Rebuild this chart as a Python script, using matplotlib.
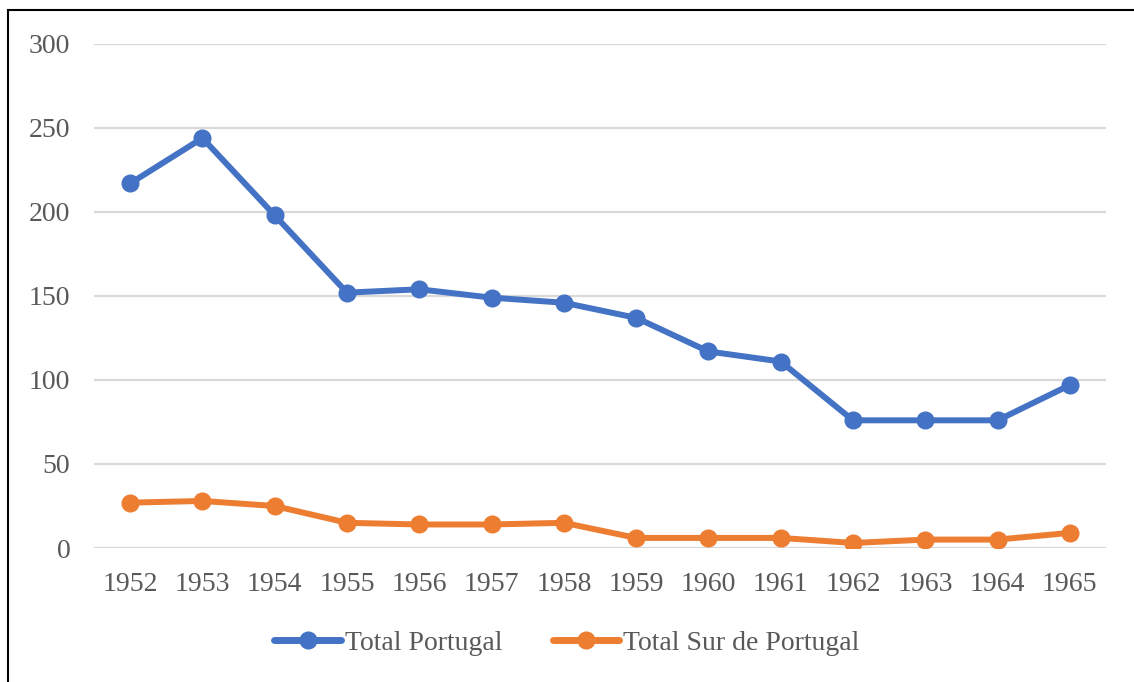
import matplotlib
matplotlib.use('Agg')
import matplotlib.pyplot as plt
from matplotlib.lines import Line2D

# Datos
years = ['1952', '1953', '1954', '1955', '1956', '1957', '1958',
         '1959', '1960', '1961', '1962', '1963', '1964', '1965']
total_portugal = [217, 244, 198, 152, 154, 149, 146, 137, 117, 111, 76, 76, 76, 97]
total_sur = [27, 28, 25, 15, 14, 14, 15, 6, 6, 6, 3, 5, 5, 9]

blue = '#4472C4'
orange = '#ED7D31'
grey_text = '#595959'

plt.rcParams['font.family'] = ['Liberation Serif', 'DejaVu Serif']

fig = plt.figure(figsize=(11.34, 6.82), dpi=100)
ax = fig.add_axes([94 / 1134, 1 - 548 / 682, 1012 / 1134, 504 / 682])

x = range(len(years))
ax.plot(x, total_portugal, color=blue, lw=4.3, marker='o', ms=12,
        solid_capstyle='round', label='Total Portugal')
ax.plot(x, total_sur, color=orange, lw=4.3, marker='o', ms=12,
        solid_capstyle='round', label='Total Sur de Portugal')

ax.set_xlim(-0.5, len(years) - 0.5)
ax.set_ylim(0, 300)
ax.set_yticks(range(0, 301, 50))
ax.set_xticks(list(x))
ax.set_xticklabels(years)
ax.grid(axis='y', color='#D9D9D9', lw=1.6)
ax.set_axisbelow(True)
for s in ax.spines.values():
    s.set_visible(False)
ax.tick_params(length=0, labelsize=20, labelcolor=grey_text)
ax.tick_params(axis='y', pad=17)
ax.tick_params(axis='x', pad=17)

handles = [
    Line2D([], [], color=blue, lw=5, marker='o', ms=12, solid_capstyle='round'),
    Line2D([], [], color=orange, lw=5, marker='o', ms=12, solid_capstyle='round'),
]
leg = fig.legend(handles, ['Total Portugal', 'Total Sur de Portugal'],
                 loc='center', bbox_to_anchor=(0.5, 1 - 643 / 682), ncol=2,
                 frameon=False, fontsize=20, handlelength=2.4, handletextpad=0.15,
                 columnspacing=1.8)
for t in leg.get_texts():
    t.set_color(grey_text)

# marco negro de la imagen
fig.add_artist(plt.Rectangle((7.5 / 1134, -0.05), 1.2, 1 - 9.5 / 682 + 0.05,
                             transform=fig.transFigure, fill=False,
                             edgecolor='black', lw=1.5))

fig.savefig('out.png', dpi=100)
